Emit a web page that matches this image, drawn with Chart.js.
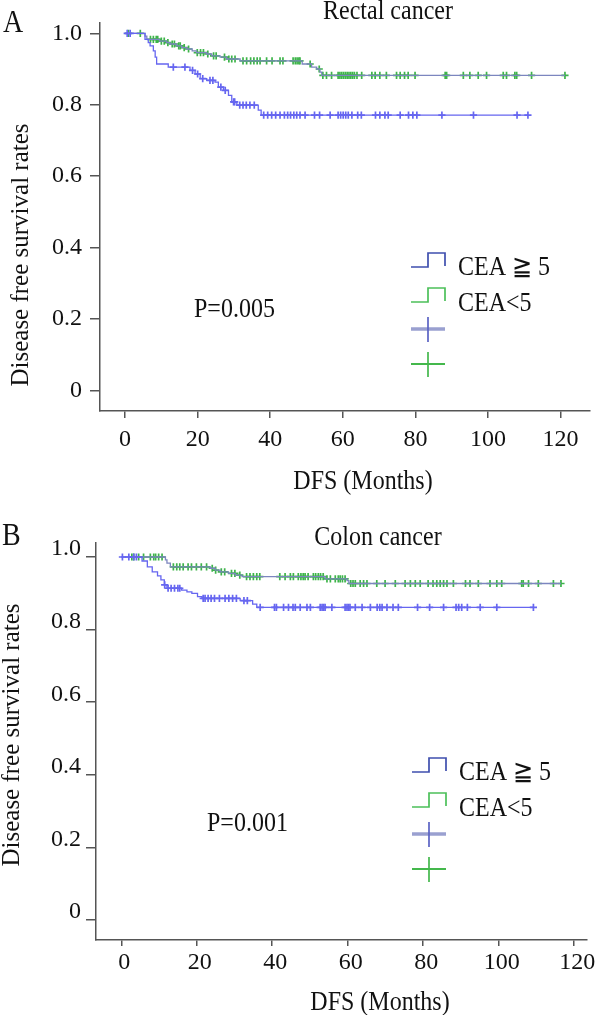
<!DOCTYPE html>
<html>
<head>
<meta charset="utf-8">
<script src="https://cdn.jsdelivr.net/npm/chart.js@4.4.0/dist/chart.umd.min.js"></script>
<style>
  html, body { margin: 0; padding: 0; background: #fff; }
  canvas { display: block; }
</style>
</head>
<body>
<canvas id="rectal" width="596" height="500"></canvas>
<canvas id="colon" width="596" height="515"></canvas>
<script>
// --- Axis ticks ---
const xTicks = [0, 20, 40, 60, 80, 100, 120];
const yTicks = [0, 0.2, 0.4, 0.6, 0.8, 1.0];
const yTickLabels = ["0", "0.2", "0.4", "0.6", "0.8", "1.0"];
const groupLabels = ["CEA \u2267 5", "CEA<5"];

// --- Rectal cancer, CEA >= 5 (events: time, survival) ---
const rectalHighTime = [0, 5.5, 6.4, 6.9, 7.8, 8.3, 8.7, 11.9, 17.9, 19.3, 20.7, 22.5, 24.8, 25.7, 27.1, 28.5, 29.4, 30.8, 36.7, 37.5];
const rectalHighSurv = [1.0, 0.983, 0.974, 0.965, 0.951, 0.933, 0.914, 0.905, 0.896, 0.886, 0.873, 0.868, 0.863, 0.849, 0.840, 0.826, 0.808, 0.799, 0.785, 0.771];
const rectalHighCensor = [0.6, 1.4, 13.3, 16.5, 18.6, 20.0, 21.4, 23.4, 24.2, 26.4, 27.6, 29.9, 30.2, 31.6, 32.5, 33.4, 34.4, 35.6, 38.2, 39.3, 40.4, 41.5, 42.7, 43.9, 44.8, 45.6, 46.5, 47.3, 48.2, 49.6, 52.2, 53.6, 56.5, 58.7, 59.4, 60.1, 60.8, 61.5, 62.5, 64.1, 65.1, 69.0, 70.2, 71.6, 72.5, 75.8, 78.1, 79.3, 80.4, 87.3, 96.0, 108.0, 111.0];

// --- Rectal cancer, CEA < 5 ---
const rectalLowTime = [0.9, 5.5, 6.0, 9.5, 11.5, 12.4, 14.2, 15.6, 17.0, 18.5, 19.7, 22.5, 23.9, 26.2, 28.0, 31.7, 48.8, 51.4, 52.8, 53.7, 54.2];
const rectalLowSurv = [1.0, 0.992, 0.983, 0.978, 0.974, 0.970, 0.965, 0.960, 0.956, 0.951, 0.946, 0.942, 0.937, 0.933, 0.928, 0.923, 0.914, 0.905, 0.900, 0.891, 0.882];
const rectalLowCensor = [0.9, 4.2, 7.0, 7.8, 8.6, 9.0, 10.0, 10.8, 11.8, 13.0, 13.6, 14.8, 15.2, 16.3, 17.5, 19.9, 20.8, 21.6, 22.8, 24.4, 25.1, 27.4, 28.6, 29.4, 30.3, 32.5, 33.5, 34.6, 35.5, 36.4, 37.2, 39.0, 40.5, 42.7, 43.5, 46.3, 46.9, 47.4, 47.9, 48.2, 51.0, 53.5, 54.5, 55.5, 56.9, 58.7, 59.2, 59.7, 60.2, 60.7, 61.2, 61.7, 62.2, 62.7, 63.2, 63.9, 65.2, 68.0, 68.9, 70.2, 72.0, 74.8, 75.8, 77.0, 78.0, 79.9, 88.2, 88.6, 93.2, 95.0, 97.3, 99.6, 104.2, 105.1, 107.4, 107.9, 112.0, 121.2];

// --- Colon cancer, CEA >= 5 ---
const colonHighTime = [0, 5.5, 6.9, 8.2, 9.6, 10.5, 11.4, 12.1, 16.0, 17.4, 18.7, 20.2, 21.4, 31.5, 34.8, 35.9];
const colonHighSurv = [1.0, 0.989, 0.973, 0.959, 0.948, 0.937, 0.923, 0.914, 0.909, 0.904, 0.900, 0.891, 0.886, 0.880, 0.870, 0.861];
const colonHighCensor = [0.3, 2.0, 3.3, 4.0, 11.5, 12.4, 13.2, 14.1, 15.0, 15.5, 21.7, 22.2, 23.0, 23.8, 24.7, 26.0, 27.5, 28.5, 29.5, 30.5, 32.5, 33.4, 36.8, 40.6, 41.1, 43.0, 44.3, 45.5, 46.1, 47.4, 49.2, 50.1, 52.7, 53.2, 53.6, 54.0, 55.8, 59.3, 59.8, 60.2, 60.6, 62.0, 63.8, 66.0, 67.8, 68.5, 69.1, 70.4, 72.0, 73.4, 78.5, 81.7, 85.4, 88.7, 89.4, 90.2, 91.7, 95.1, 99.5, 109.2];

// --- Colon cancer, CEA < 5 ---
const colonLowTime = [2.8, 11.7, 12.1, 13.0, 23.6, 24.9, 26.2, 28.4, 30.2, 32.0, 54.0, 59.8, 60.3];
const colonLowSurv = [1.0, 0.992, 0.983, 0.973, 0.969, 0.964, 0.959, 0.955, 0.950, 0.946, 0.940, 0.935, 0.927];
const colonLowCensor = [2.8, 3.3, 4.6, 5.9, 7.7, 8.6, 9.1, 9.9, 10.8, 13.8, 14.7, 15.5, 16.4, 17.7, 18.6, 19.9, 21.2, 22.6, 24.1, 25.0, 26.5, 27.4, 29.2, 30.1, 31.4, 33.2, 34.1, 35.0, 35.9, 36.7, 42.0, 43.4, 44.8, 45.6, 46.9, 47.6, 48.2, 48.7, 49.5, 50.9, 51.5, 52.2, 52.8, 53.5, 54.5, 55.4, 56.7, 57.5, 58.0, 58.6, 59.3, 60.8, 61.4, 62.0, 63.3, 64.2, 65.1, 67.7, 69.9, 72.6, 75.2, 76.6, 77.9, 79.2, 81.3, 82.6, 83.6, 84.5, 85.4, 86.3, 88.0, 91.2, 92.4, 94.6, 97.7, 99.5, 100.8, 106.1, 106.5, 107.9, 110.5, 114.5, 116.5];

// --- Styles ---
const SERIF = '"Liberation Serif", "Times New Roman", serif';
const BLUE = "#6666f0";
const GREEN = "#3db449";
const GREEN_LINE = "#7c86bf";
const AXIS = "#555";

// survival value at time t (step function)
function survAt(times, surv, t) {
  let s = surv[0];
  for (let i = 0; i < times.length; i++) {
    if (times[i] <= t) s = surv[i];
  }
  return s;
}

function curvePoints(times, surv, censor) {
  const pts = times.map((t, i) => ({ x: t, y: surv[i] }));
  const lastC = censor[censor.length - 1];
  if (lastC > times[times.length - 1]) pts.push({ x: lastC, y: surv[surv.length - 1] });
  return pts;
}

function censorPoints(times, surv, censor) {
  return censor.map(t => ({ x: t, y: survAt(times, surv, t) }));
}

// text slightly stretched vertically, like the source figure
function text(ctx, str, x, y, size, align) {
  ctx.save();
  ctx.translate(x, y);
  ctx.scale(1, 1.12);
  ctx.font = size + "px " + SERIF;
  ctx.fillStyle = "#111";
  ctx.textAlign = align || "left";
  ctx.textBaseline = "middle";
  ctx.fillText(str, 0, 0);
  ctx.restore();
}

function stepIcon(ctx, x, y, color) {
  ctx.save();
  ctx.strokeStyle = color;
  ctx.lineWidth = 1.7;
  ctx.beginPath();
  ctx.moveTo(x, y);
  ctx.lineTo(x + 17, y);
  ctx.lineTo(x + 17, y - 14);
  ctx.lineTo(x + 34, y - 14);
  ctx.lineTo(x + 34, y - 1);
  ctx.stroke();
  ctx.restore();
}

function crossIcon(ctx, cx, cy, vColor, hColor, hWidth) {
  ctx.save();
  ctx.strokeStyle = hColor;
  ctx.lineWidth = hWidth;
  ctx.beginPath();
  ctx.moveTo(cx - 17, cy);
  ctx.lineTo(cx + 17, cy);
  ctx.stroke();
  ctx.strokeStyle = vColor;
  ctx.lineWidth = 1.7;
  ctx.beginPath();
  ctx.moveTo(cx, cy - 12);
  ctx.lineTo(cx, cy + 13);
  ctx.stroke();
  ctx.restore();
}

function makePanel(id, p) {
  const annotate = {
    id: "annotate_" + id,
    afterDraw(chart) {
      const ctx = chart.ctx;
      ctx.save();
      text(ctx, p.letter, p.letterX, p.letterY, 28, "left");
      text(ctx, p.title, p.titleX, p.titleY, 24, "center");
      text(ctx, "DFS (Months)", p.xTitleX, p.xTitleY, 24, "center");
      text(ctx, p.pText, p.pX, p.pY, 24, "left");
      ctx.save();
      ctx.translate(p.yTitleX, p.yTitleY);
      ctx.rotate(-Math.PI / 2);
      ctx.font = "25px " + SERIF;
      ctx.fillStyle = "#111";
      ctx.textAlign = "center";
      ctx.textBaseline = "middle";
      ctx.fillText("Disease free survival rates", 0, 0);
      ctx.restore();
      // legend
      stepIcon(ctx, p.legX, p.legY, "#3f4fae");
      text(ctx, groupLabels[0], p.legX + 47, p.legY + 1, 24, "left");
      stepIcon(ctx, p.legX, p.legY + 35, "#4cc05a");
      text(ctx, groupLabels[1], p.legX + 47, p.legY + 37, 24, "left");
      crossIcon(ctx, p.legX + 17, p.legY + 62, "#5a62c4", "#9aa0d0", 3.5);
      crossIcon(ctx, p.legX + 17, p.legY + 97, "#44b84c", "#44b84c", 1.8);
      ctx.restore();
    }
  };

  new Chart(document.getElementById(id), {
    type: "scatter",
    data: {
      datasets: [
        { data: curvePoints(p.hiT, p.hiS, p.hiC), showLine: true, stepped: true, borderColor: BLUE, borderWidth: 1.3, pointRadius: 0 },
        { data: curvePoints(p.loT, p.loS, p.loC), showLine: true, stepped: true, borderColor: GREEN_LINE, borderWidth: 1.3, pointRadius: 0 },
        { data: censorPoints(p.hiT, p.hiS, p.hiC), showLine: false, pointStyle: "cross", pointRadius: 3.6, borderColor: BLUE, borderWidth: 1.7 },
        { data: censorPoints(p.loT, p.loS, p.loC), showLine: false, pointStyle: "cross", pointRadius: 3.6, borderColor: GREEN, borderWidth: 1.7 }
      ]
    },
    options: {
      responsive: false,
      animation: false,
      layout: { padding: { top: p.padTop, right: p.padRight, left: 0, bottom: 0 } },
      plugins: { legend: { display: false }, tooltip: { enabled: false } },
      scales: {
        x: {
          type: "linear",
          min: p.xMin, max: p.xMax,
          afterBuildTicks: s => { s.ticks = xTicks.map(v => ({ value: v })); },
          afterFit: s => { s.height = p.xAxisH; },
          grid: { display: true, drawOnChartArea: false, drawTicks: true, tickLength: p.xTickLen, color: AXIS, lineWidth: 1.5 },
          border: { display: true, color: AXIS, width: 1.5 },
          ticks: { font: { family: SERIF, size: 24 }, color: "#111", padding: p.xTickPad, maxRotation: 0, labelOffset: p.xLabelOffset }
        },
        y: {
          type: "linear",
          min: p.yMin, max: p.yMax,
          afterBuildTicks: s => { s.ticks = yTicks.map(v => ({ value: v })); },
          afterFit: s => { s.width = p.yAxisW; },
          grid: { display: true, drawOnChartArea: false, drawTicks: true, tickLength: 10, color: AXIS, lineWidth: 1.5 },
          border: { display: true, color: AXIS, width: 1.5 },
          ticks: {
            font: { family: SERIF, size: 24 }, color: "#111", padding: p.yTickPad, labelOffset: p.yLabelOffset,
            callback: v => yTickLabels[yTicks.indexOf(v)]
          }
        }
      }
    },
    plugins: [annotate]
  });
}

makePanel("rectal", {
  hiT: rectalHighTime, hiS: rectalHighSurv, hiC: rectalHighCensor,
  loT: rectalLowTime, loS: rectalLowSurv, loC: rectalLowCensor,
  xMin: -6.9, xMax: 128.1, yMin: -0.058, yMax: 1.0305,
  padTop: 18, padRight: 6, xAxisH: 89, yAxisW: 100,
  xTickLen: 7, xTickPad: 7, xLabelOffset: 0, yTickPad: 8, yLabelOffset: 0,
  letter: "A", letterX: 3, letterY: 24,
  title: "Rectal cancer", titleX: 388, titleY: 12,
  xTitleX: 363, xTitleY: 482,
  yTitleX: 21, yTitleY: 255,
  pText: "P=0.005", pX: 194, pY: 310,
  legX: 411, legY: 267
});

makePanel("colon", {
  hiT: colonHighTime, hiS: colonHighSurv, hiC: colonHighCensor,
  loT: colonLowTime, loS: colonLowSurv, loC: colonLowCensor,
  xMin: -6.7, xMax: 123.4, yMin: -0.055, yMax: 1.0386,
  padTop: 43, padRight: 9, xAxisH: 75, yAxisW: 96,
  xTickLen: 6, xTickPad: 2, xLabelOffset: 3, yTickPad: 5, yLabelOffset: -8,
  letter: "B", letterX: 2, letterY: 37,
  title: "Colon cancer", titleX: 378, titleY: 38,
  xTitleX: 380, xTitleY: 503,
  yTitleX: 12, yTitleY: 235,
  pText: "P=0.001", pX: 207, pY: 324,
  legX: 412, legY: 272
});
</script>
</body>
</html>
